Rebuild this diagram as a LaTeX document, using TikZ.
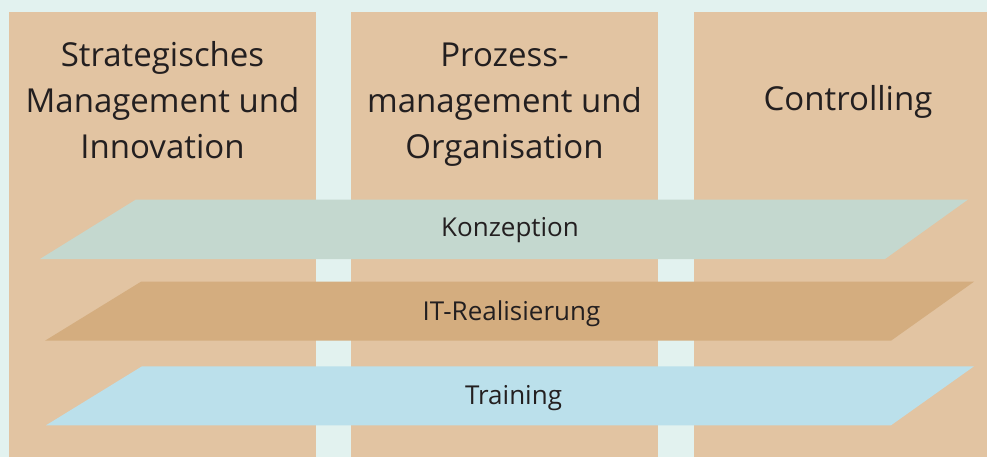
\documentclass[tikz,border=0pt]{standalone}
\usepackage{fontspec}
\setmainfont{Open Sans}
\definecolor{bgmint}{HTML}{E2F2EF}
\definecolor{coltan}{HTML}{E2C4A2}
\definecolor{konz}{HTML}{C4D8CF}
\definecolor{itreal}{HTML}{D4AD7F}
\definecolor{train}{HTML}{BBE0EB}
\definecolor{txt}{HTML}{231F20}
\begin{document}
\begin{tikzpicture}[x=1pt,y=-1pt,
  column/.style={fill=coltan},
  head/.style={text=txt,align=center,anchor=base,font=\fontsize{33}{46}\selectfont,inner sep=0pt},
  layerlabel/.style={text=txt,anchor=base,font=\fontsize{26}{30}\selectfont,inner sep=0pt}]
\useasboundingbox (0,0) rectangle (987,457);
\fill[bgmint] (0,0) rectangle (987,457);
% columns
\fill[column] (9,12) rectangle (316,457);
\fill[column] (351,12) rectangle (658,457);
\fill[column] (694,12) rectangle (987,457);
% headers (anchor = baseline of last line)
\node[head] (h1) at (162.5,159) {Strategisches\\Management und\\Innovation};
\node[head] (h2) at (504.5,159) {Prozess-\\management und\\Organisation};
\node[head] (h3) at (848,111) {Controlling};
% layers
\fill[konz] (40,259) -- (136,199.5) -- (968,199.5) -- (885,259) -- cycle;
\fill[itreal] (45,340.7) -- (141,281.7) -- (974,281.7) -- (891,340.7) -- cycle;
\fill[train] (46,425.3) -- (142,366.3) -- (974,366.3) -- (891,425.3) -- cycle;
\node[layerlabel] (l1) at (510,236) {Konzeption};
\node[layerlabel] (l2) at (511.5,320) {IT-Realisierung};
\node[layerlabel] (l3) at (513.5,404) {Training};
\end{tikzpicture}
\end{document}
